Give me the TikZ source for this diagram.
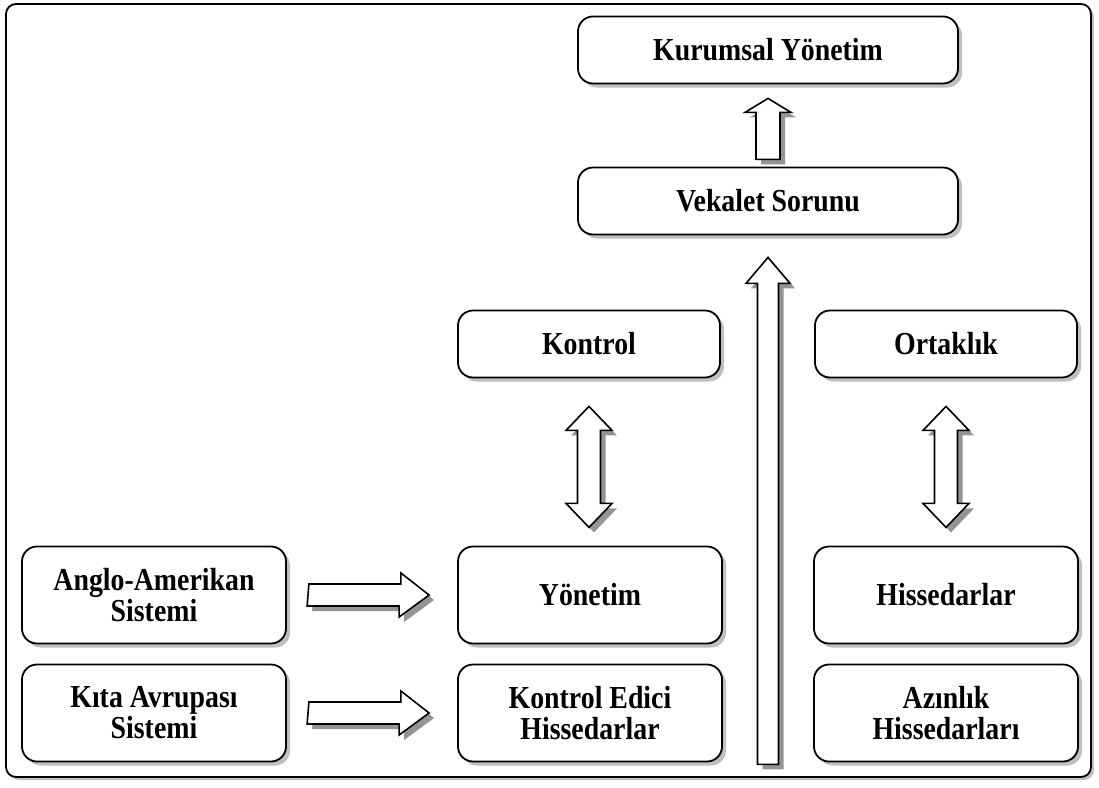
\documentclass[tikz,border=0pt]{standalone}
\usepackage{fontspec}
\setmainfont{Liberation Serif}[FakeStretch=0.87]
\usetikzlibrary{shadows}
\begin{document}
\begin{tikzpicture}[x=1pt,y=-1pt,
  box/.style={draw=black,line width=1.8pt,rounded corners=15pt,fill=white,
    align=center,font=\bfseries\fontsize{32}{31}\selectfont,
    minimum width=264pt,minimum height=97pt,inner sep=2pt,
    drop shadow={shadow xshift=4pt,shadow yshift=-4pt,fill=black!25,opacity=1}},
  widebox/.style={box,minimum width=380pt,minimum height=67pt},
  midbox/.style={box,minimum width=262pt,minimum height=67pt},
  frame/.style={draw=black,line width=1.8pt,rounded corners=10pt,fill=white,
    drop shadow={shadow xshift=3pt,shadow yshift=-3pt,fill=black!25,opacity=1}},
  arrline/.style={draw=black,line width=1.6pt,fill=white,line join=miter},
  arrshadow/.style={fill=black!42}]

\useasboundingbox (0,0) rectangle (1099,787);

% outer frame
\path[frame] (6,4) rectangle (1091,777);

% boxes
\node[widebox] (kur) at (768,50)  {Kurumsal Yönetim};
\node[widebox] (vek) at (768,201) {Vekalet Sorunu};
\node[midbox]  (kon) at (589,344) {Kontrol};
\node[midbox]  (ort) at (946,344) {Ortaklık};
\node[box]     (ang) at (154,595) {Anglo-Amerikan\\Sistemi};
\node[box]     (yon) at (590,595) {Yönetim};
\node[box]     (his) at (946,595) {Hissedarlar};
\node[box]     (kit) at (154,713) {Kıta Avrupası\\Sistemi};
\node[box]     (ked) at (590,713) {Kontrol Edici\\Hissedarlar};
\node[box]     (azi) at (946,713) {Azınlık\\Hissedarları};

% block arrow pointing right: #1 = left end, #2 = right tip
\newcommand\rightblock[2]{%
  \path[arrshadow] ([shift={(5,5)}]#1) ++(0,-11) -- ++(92,0) -- ++(0,-11)
    -- ([shift={(5,5)}]#2) -- ++(-30,22) -- ++(0,-11) -- ++(-92,0) -- cycle;
  \path[arrline] (#1) ++(0,-11) -- ++(92,0) -- ++(0,-11)
    -- (#2) -- ++(-30,22) -- ++(0,-11) -- ++(-92,0) -- cycle;}

% block arrow pointing up: #1 tip, #2 head height, #3 head half width,
% #4 shaft half width, #5 total length
\newcommand\upblock[5]{%
  \path[arrshadow] ([shift={(5,5)}]#1) -- ++(#3,#2) -- ++(-#3+#4,0)
    -- ++(0,#5-#2) -- ++(-2*#4,0) -- ++(0,-#5+#2) -- ++(-#3+#4,0) -- cycle;
  \path[arrline] (#1) -- ++(#3,#2) -- ++(-#3+#4,0)
    -- ++(0,#5-#2) -- ++(-2*#4,0) -- ++(0,-#5+#2) -- ++(-#3+#4,0) -- cycle;}

% vertical double-headed block arrow: #1 top tip, #2 total length
\newcommand\dblblock[2]{%
  \path[arrshadow] ([shift={(5,5)}]#1) -- ++(23,24) -- ++(-11.5,0)
    -- ++(0,#2-48) -- ++(11.5,0) -- ++(-23,24) -- ++(-23,-24) -- ++(11.5,0)
    -- ++(0,-#2+48) -- ++(-11.5,0) -- cycle;
  \path[arrline] (#1) -- ++(23,24) -- ++(-11.5,0)
    -- ++(0,#2-48) -- ++(11.5,0) -- ++(-23,24) -- ++(-23,-24) -- ++(11.5,0)
    -- ++(0,-#2+48) -- ++(-11.5,0) -- cycle;}

\coordinate (a1s) at ([xshift=22pt]ang.east);
\coordinate (a1t) at ([xshift=-28pt]yon.west);
\coordinate (a2s) at ([xshift=22pt]kit.east);
\coordinate (a2t) at ([xshift=-28pt]ked.west);
\rightblock{a1s}{a1t}
\rightblock{a2s}{a2t}

\coordinate (up1) at ([yshift=-14pt]kur.south);
\upblock{up1}{14}{23}{12}{61}
\coordinate (up2) at ([yshift=-22pt]vek.south);
\upblock{up2}{26}{22}{10.5}{507}

\coordinate (d1) at ([yshift=-28pt]kon.south);
\dblblock{d1}{121}
\coordinate (d2) at ([yshift=-28pt]ort.south);
\dblblock{d2}{121}
\end{tikzpicture}
\end{document}
